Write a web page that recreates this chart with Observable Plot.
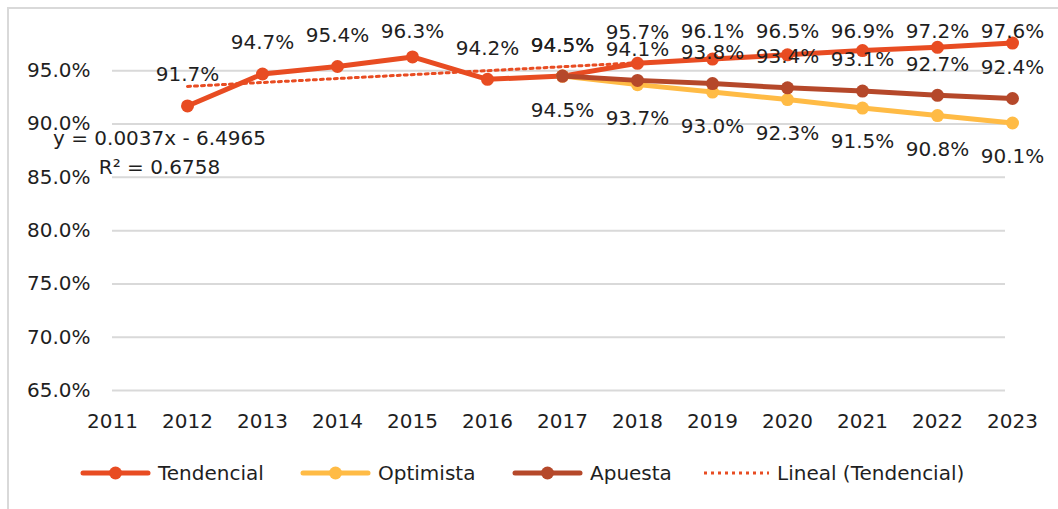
<!DOCTYPE html>
<html><head><meta charset="utf-8">
<script src="https://cdn.jsdelivr.net/npm/d3@7"></script>
<script src="https://cdn.jsdelivr.net/npm/@observablehq/plot@0.6"></script>
<style>
html,body{margin:0;padding:0;width:1058px;height:509px;overflow:hidden;background:#fff;font-family:"DejaVu Sans",Arial,sans-serif;}
#frame{position:absolute;left:7px;top:7px;width:1200px;height:700px;border-left:2px solid #d9d9d9;border-top:2px solid #d9d9d9;}
#chart{position:absolute;left:0;top:0;}
#legend{position:absolute;left:0;top:0;width:1058px;height:509px;}
.item{position:absolute;top:460px;height:26px;display:flex;align-items:center;font-size:20px;color:#1f1f1f;white-space:nowrap;}
.item span{margin-left:7px;}
</style></head><body>
<div id="frame"></div><div id="chart"></div><div id="legend"></div>
<script>
// ---- data ----
const years = [2011,2012,2013,2014,2015,2016,2017,2018,2019,2020,2021,2022,2023];
const tendencialYears = [2012,2013,2014,2015,2016,2017,2018,2019,2020,2021,2022,2023];
const tendencial = [91.7,94.7,95.4,96.3,94.2,94.5,95.7,96.1,96.5,96.9,97.2,97.6];
const scenarioYears = [2017,2018,2019,2020,2021,2022,2023];
const optimista = [94.5,93.7,93.0,92.3,91.5,90.8,90.1];
const apuesta = [94.5,94.1,93.8,93.4,93.1,92.7,92.4];
const yTicks = [65,70,75,80,85,90,95];
const trendLabel = ["y = 0.0037x - 6.4965","R² = 0.6758"];
const seriesNames = ["Tendencial","Optimista","Apuesta","Lineal (Tendencial)"];
const seriesColors = ["#E84C22","#FFBB45","#B5482A","#E84C22"];

// ---- tables ----
const tData = tendencialYears.map((year,i)=>({year, value: tendencial[i]}));
const oData = scenarioYears.map((year,i)=>({year, value: optimista[i]}));
const aData = scenarioYears.map((year,i)=>({year, value: apuesta[i]}));

// linear trend (least squares) of Tendencial
const mx = d3.mean(tData,d=>d.year), my = d3.mean(tData,d=>d.value);
const slope = d3.sum(tData,d=>(d.year-mx)*(d.value-my))/d3.sum(tData,d=>(d.year-mx)**2);
const trendData = d3.extent(tendencialYears).map(year=>({year, value: my + slope*(year-mx)}));

const fmt = v => v.toFixed(1) + "%";
const [cT,cO,cA,cL] = seriesColors;
const txt = "#1f1f1f";
const fs = 20;

const chart = Plot.plot({
  width:1058, height:445,
  marginLeft:112, marginRight:46, marginTop:17, marginBottom:55,
  style:{fontFamily:"'DejaVu Sans', Arial, sans-serif", fontSize:fs+"px", color:txt, background:"transparent", overflow:"visible"},
  x:{domain:[2011,2023]},
  y:{domain:[65,100]},
  marks:[
    Plot.ruleY(yTicks,{stroke:"#d9d9d9", strokeWidth:2, insetRight:7}),
    Plot.axisY(yTicks,{tickSize:0, tickPadding:22, tickFormat:fmt, fontSize:fs, label:null, fill:txt}),
    Plot.axisX(years,{tickSize:0, tickPadding:23, tickFormat:d=>String(d), fontSize:fs, label:null, fill:txt}),
    Plot.line(tData,{x:"year", y:"value", stroke:cT, strokeWidth:5, strokeLinecap:"round", strokeLinejoin:"round"}),
    Plot.dot(tData,{x:"year", y:"value", r:6.5, fill:cT, stroke:null}),
    Plot.line(oData,{x:"year", y:"value", stroke:cO, strokeWidth:5, strokeLinecap:"round", strokeLinejoin:"round"}),
    Plot.dot(oData,{x:"year", y:"value", r:6.5, fill:cO, stroke:null}),
    Plot.line(aData,{x:"year", y:"value", stroke:cA, strokeWidth:5, strokeLinecap:"round", strokeLinejoin:"round"}),
    Plot.dot(aData,{x:"year", y:"value", r:6.5, fill:cA, stroke:null}),
    Plot.line(trendData,{x:"year", y:"value", stroke:cL, strokeWidth:3, strokeDasharray:"3 4"}),
    // data labels
    Plot.text(tData,{x:"year", y:d=>Math.min(d.value,95.75), text:d=>fmt(d.value), dy:-31, fontSize:fs, fill:txt}),
    Plot.text(aData,{x:"year", y:"value", text:d=>fmt(d.value), dy:-31, fontSize:fs, fill:txt}),
    Plot.text(oData,{x:"year", y:"value", text:d=>fmt(d.value), dy:34, fontSize:fs, fill:txt}),
    // trendline equation, anchored to the trendline start
    Plot.text([trendData[0]],{x:"year", y:"value", text:()=>trendLabel.join("\n"), dx:-28, dy:64, lineHeight:1.45, textAnchor:"middle", lineAnchor:"middle", fontSize:fs, fill:txt})
  ]
});
document.getElementById("chart").appendChild(chart);

// ---- legend ----
const legendLeft = [80,300,512,703];
const legend = document.getElementById("legend");
seriesNames.forEach((name,i)=>{
  const item = document.createElement("div");
  item.className = "item";
  item.style.left = legendLeft[i] + "px";
  const dotted = i === 3;
  const w = dotted ? 67 : 71;
  const sw = dotted
    ? `<svg width="${w}" height="14"><line x1="1" y1="7" x2="${w-1}" y2="7" stroke="${seriesColors[i]}" stroke-width="3" stroke-dasharray="3 4"/></svg>`
    : `<svg width="${w}" height="14"><line x1="3" y1="7" x2="${w-3}" y2="7" stroke="${seriesColors[i]}" stroke-width="5" stroke-linecap="round"/><circle cx="${w/2}" cy="7" r="6.5" fill="${seriesColors[i]}"/></svg>`;
  item.innerHTML = sw + `<span>${name}</span>`;
  legend.appendChild(item);
});
</script>
</body></html>
